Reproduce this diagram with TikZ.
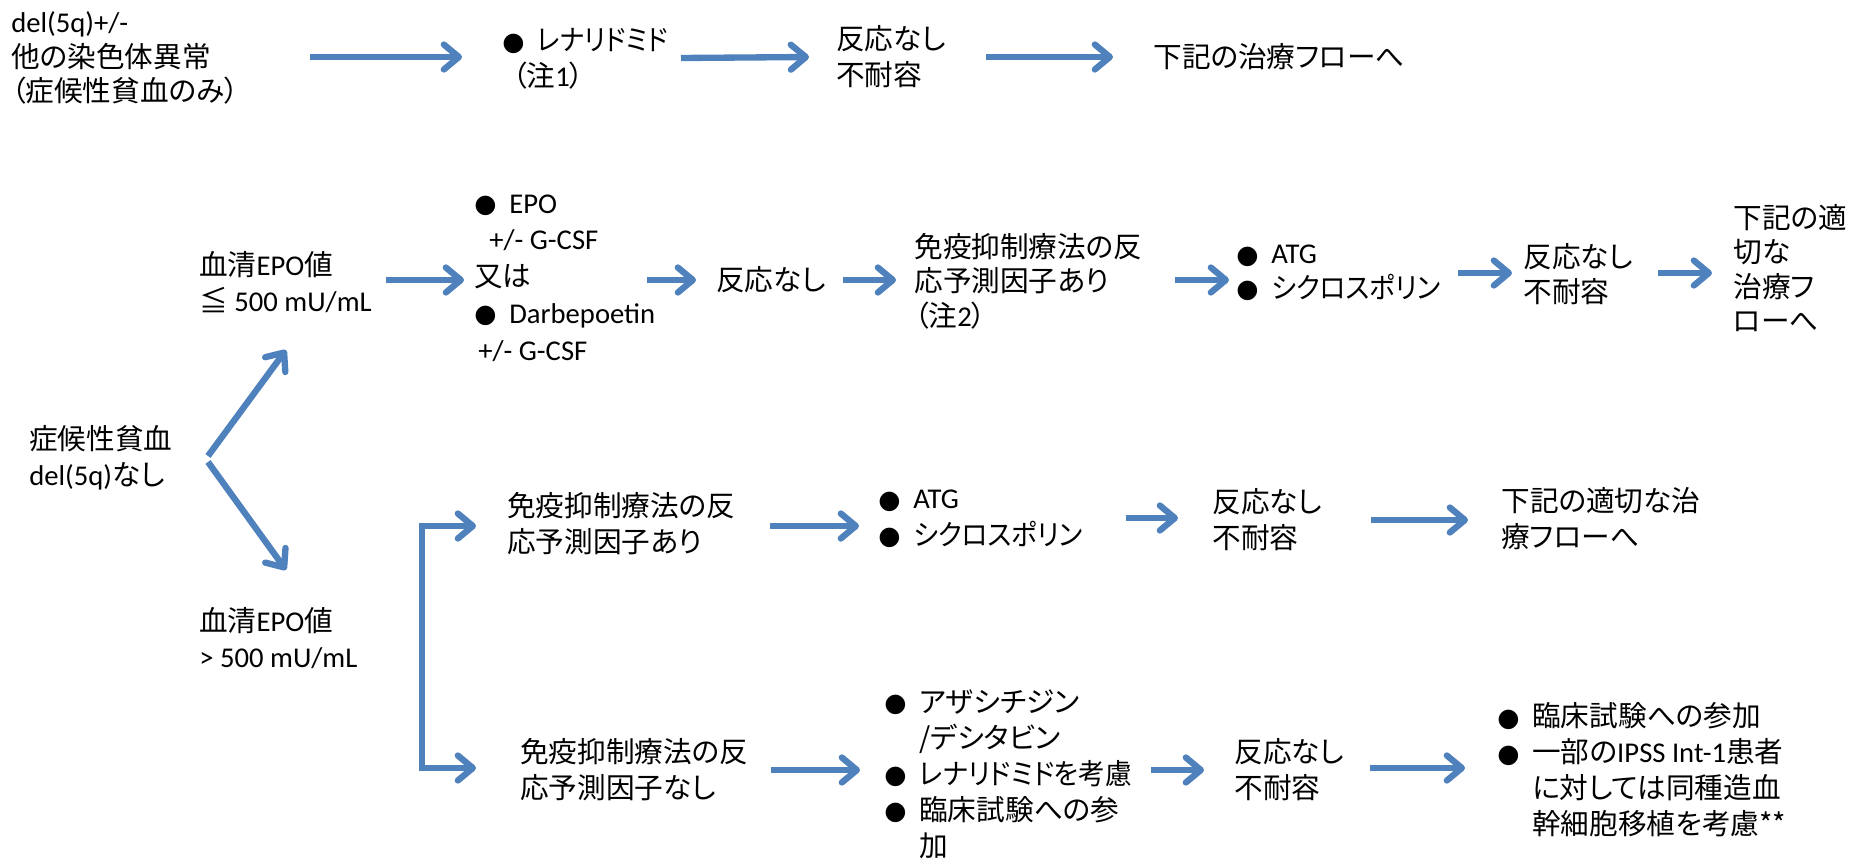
\documentclass[tikz,border=0pt]{standalone}
\usepackage{fontspec}
\setmainfont{Noto Sans CJK JP}[RawFeature=+palt]
\newfontfamily\latf{Carlito}
\newfontfamily\symf{DejaVu Sans}
\usetikzlibrary{arrows.meta}
\definecolor{arrblue}{RGB}{79,129,189}
\newcommand\LT[1]{{\latf #1}}
\newcommand\bu{\makebox[0.7cm][l]{\raisebox{0.3pt}{\symf\fontsize{14.5}{14.5}\selectfont ●}}}
\newcommand\ind{\hspace*{0.7cm}}
\newcommand\nar[1]{\scalebox{0.93}[1]{#1}}
\tikzset{
  myb/.tip={Straight Barb[length=0.3cm,width=0.5cm,round]},
  T/.style={anchor=west,inner sep=0pt,align=left,font=\fontsize{16.3}{20.5}\selectfont},
  Ts/.style={anchor=west,inner sep=0pt,align=left,font=\fontsize{16.3}{19.6}\selectfont},
  Tw/.style={anchor=west,inner sep=0pt,align=left,font=\fontsize{16.3}{20.9}\selectfont},
  arr/.style={draw=arrblue,line width=3.6pt,-myb},
  arrtwo/.style={draw=arrblue,line width=3.6pt,myb-myb},
}
\begin{document}
\begin{tikzpicture}[x=0.02cm,y=-0.02cm]
\fill[white] (0,0) rectangle (1863,859);
\useasboundingbox (0,0) rectangle (1863,859);

% Row 1
\node[Ts] (n1) at (11,58) {\LT{del(5q)+/-}\\他の染色体異常\\（症候性貧血のみ）};
\node[T] (n2) at (502,59) {\bu\scalebox{0.9}[1]{レナリドミド}\\\hspace*{0.2cm}（注\LT{1}）};
\node[T] (n3) at (836,57) {反応なし\\不耐容};
\node[T] (n4) at (1153,57) {下記の治療フローへ};

\draw[arr] ([shift={(299,-1)}]n1.west) -- ([shift={(-40,-2)}]n2.west);
\draw[arr] ([shift={(179,-1)}]n2.west) -- ([shift={(-27,0)}]n3.west);
\draw[arr] ([shift={(150,0)}]n3.west) -- ([shift={(-40,0)}]n4.west);

% Row 2
\node[T] (e1) at (199,282) {血清\LT{EPO}値\\≦ \LT{500 mU/mL}};
\node[Tw] (e2) at (474,278) {\bu\LT{EPO}\\\hspace*{0.3cm}\LT{+/- G-CSF}\\又は\\\bu\LT{Darbepoetin}\\\hspace*{0.08cm}\LT{+/- G-CSF}};
\node[T] (e3) at (716,280) {反応なし};
\node[Ts] (e4) at (914,281) {免疫抑制療法の反\\応予測因子あり\\（注\LT{2}）};
\node[Ts] (e5) at (1236,273) {\bu\LT{ATG}\\\bu\nar{シクロスポリン}};
\node[Ts] (e6) at (1523,274) {反応なし\\不耐容};
\node[Ts] (e7) at (1733,268) {下記の適\\切な\\治療フ\\ローへ};

\draw[arr] ([shift={(187,-2)}]e1.west) -- ([shift={(-10,2)}]e2.west);
\draw[arr] ([shift={(173,2)}]e2.west) -- ([shift={(-20,0)}]e3.west);
\draw[arr] ([shift={(127,0)}]e3.west) -- ([shift={(-18,-1)}]e4.west);
\draw[arr] ([shift={(261,-1)}]e4.west) -- ([shift={(-7,7)}]e5.west);
\draw[arr] ([shift={(222,0)}]e5.west) -- ([shift={(-11,-1)}]e6.west);
\draw[arr] ([shift={(135,-1)}]e6.west) -- ([shift={(-21,5)}]e7.west);

% Left
\node[T] (s) at (29,458) {症候性貧血\\\LT{del(5q)}なし};
\node[T] (e8) at (199,638) {血清\LT{EPO}値\\\LT{> 500 mU/mL}};
\draw[arr] ([shift={(179,-2)}]s.west) -- ([shift={(87,68)}]e1.west);
\draw[arr] ([shift={(179,4)}]s.west) -- ([shift={(87,-68)}]e8.west);

% Row 3
\node[T] (r3a) at (507,524) {免疫抑制療法の反\\応予測因子あり};
\node[T] (r3b) at (878,519) {\bu\LT{ATG}\\\bu\nar{シクロスポリン}};
\node[T] (r3c) at (1212,520) {反応なし\\不耐容};
\node[T] (r3d) at (1501,519) {下記の適切な治\\療フローへ};

% Row 4
\node[T] (r4a) at (520,770) {免疫抑制療法の反\\応予測因子なし};
\node[T] (r4b) at (884,774) {\bu アザシチジン\\\ind/デシタビン\\\bu\nar{レナリドミドを考慮}\\\bu 臨床試験への参\\\ind 加};
\node[T] (r4c) at (1234,770) {反応なし\\不耐容};
\node[T] (r4d) at (1497,770) {\bu 臨床試験への参加\\\bu 一部の\LT{IPSS Int-1}患者\\\ind に対しては同種造血\\\ind 幹細胞移植を考慮**};

\draw[arrtwo] ([shift={(-31,2)}]r3a.west) -| ([shift={(-98,-2)}]r4a.west) -- ([shift={(-44,-2)}]r4a.west);

\draw[arr] ([shift={(263,2)}]r3a.west) -- ([shift={(-19,7)}]r3b.west);
\draw[arr] ([shift={(248,-1)}]r3b.west) -- ([shift={(-34,-2)}]r3c.west);
\draw[arr] ([shift={(159,0)}]r3c.west) -- ([shift={(-33,1)}]r3d.west);

\draw[arr] ([shift={(251,0)}]r4a.west) -- ([shift={(-24,-4)}]r4b.west);
\draw[arr] ([shift={(267,-4)}]r4b.west) -- ([shift={(-30,0)}]r4c.west);
\draw[arr] ([shift={(136,-2)}]r4c.west) -- ([shift={(-32,-2)}]r4d.west);
\end{tikzpicture}
\end{document}
